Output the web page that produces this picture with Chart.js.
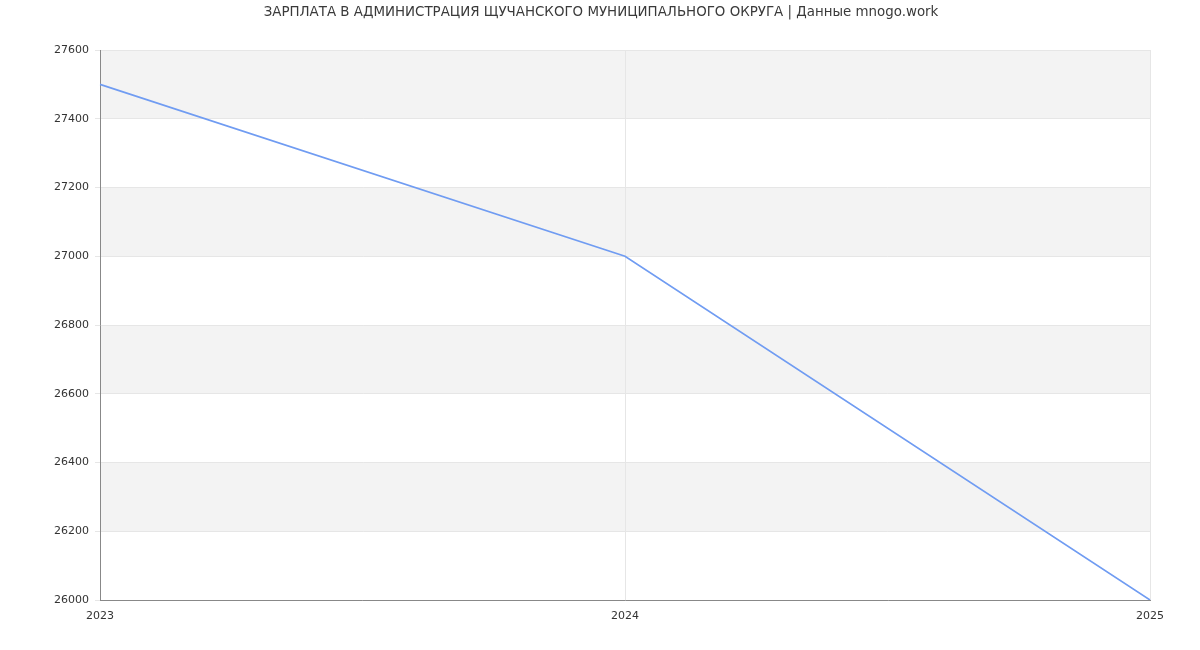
<!DOCTYPE html>
<html>
<head>
<meta charset="utf-8">
<script src="https://cdn.jsdelivr.net/npm/chart.js@4/dist/chart.umd.min.js"></script>
<style>
  html, body { margin: 0; padding: 0; background: #fff; }
  #wrap { width: 1200px; height: 650px; }
</style>
</head>
<body>
<div id="wrap"><canvas id="line-chart" width="1200" height="650"></canvas></div>
<script>
// data
var years = ['2023', '2024', '2025'];
var salary = [27500, 27000, 26000];
var yMin = 26000;
var yMax = 27600;
var yStep = 200;
var titleText = 'ЗАРПЛАТА В АДМИНИСТРАЦИЯ ЩУЧАНСКОГО МУНИЦИПАЛЬНОГО ОКРУГА | Данные mnogo.work';

// grey stripes between every other pair of y ticks, starting from the top
var stripes = {
  id: 'stripes',
  beforeDraw: function(chart) {
    var ctx = chart.ctx, area = chart.chartArea, y = chart.scales.y;
    ctx.save();
    ctx.fillStyle = '#f3f3f3';
    for (var v = yMax; v > yMin; v -= yStep * 2) {
      var top = y.getPixelForValue(v);
      var bot = y.getPixelForValue(v - yStep);
      ctx.fillRect(area.left, top, area.right - area.left, bot - top);
    }
    ctx.restore();
  }
};

// title centred on the whole canvas, not on the padded box
var topTitle = {
  id: 'topTitle',
  afterDraw: function(chart) {
    var ctx = chart.ctx;
    ctx.save();
    ctx.fillStyle = '#3a3a3a';
    ctx.font = '13.4px "DejaVu Sans", sans-serif';
    ctx.textAlign = 'center';
    ctx.textBaseline = 'middle';
    ctx.fillText(titleText, chart.width / 2 + 1, 13);
    ctx.restore();
  }
};

Chart.defaults.font.family = '"DejaVu Sans", sans-serif';
Chart.defaults.color = '#333';

var dataPlot = new Chart(document.getElementById('line-chart'), {
  type: 'line',
  data: {
    labels: years,
    datasets: [{
      data: salary,
      borderColor: 'rgb(112,156,242)',
      borderWidth: 1.6,
      pointRadius: 0,
      tension: 0,
      fill: false
    }]
  },
  options: {
    responsive: false,
    animation: false,
    layout: { padding: { left: 0, right: 50, top: 50, bottom: 0 } },
    plugins: {
      legend: { display: false },
      tooltip: { enabled: false },
      title: { display: false }
    },
    scales: {
      x: {
        offset: false,
        grid: { color: '#e6e6e6', drawTicks: false },
        border: { color: '#888' },
        ticks: { padding: 10, font: { size: 11 }, maxRotation: 0 },
        afterFit: function(s) { s.height = 50; }
      },
      y: {
        min: yMin,
        max: yMax,
        grid: { color: '#e6e6e6', tickLength: 5 },
        border: { color: '#888' },
        ticks: {
          stepSize: yStep,
          padding: 6,
          font: { size: 11 },
          callback: function(v) { return String(v); }
        },
        afterFit: function(s) { s.width = 100; }
      }
    }
  },
  plugins: [stripes, topTitle]
});
</script>
</body>
</html>
